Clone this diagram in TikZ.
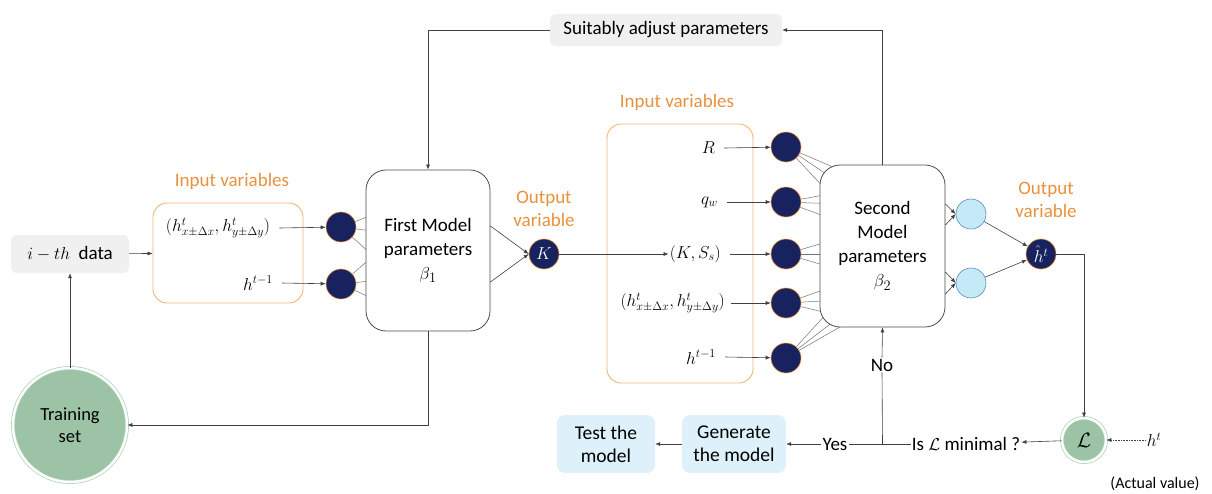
\documentclass[tikz,border=0pt]{standalone}
\usepackage{fontspec}
\setmainfont{Carlito}
\usetikzlibrary{arrows.meta,calc,backgrounds}
\definecolor{navy}{RGB}{24,34,94}
\definecolor{myorange}{RGB}{232,145,60}
\definecolor{boxorange}{RGB}{240,178,120}
\definecolor{grayfill}{RGB}{240,240,240}
\definecolor{paleblue}{RGB}{222,241,250}
\definecolor{lightcirc}{RGB}{198,233,248}
\definecolor{circedge}{RGB}{90,140,185}
\definecolor{sage}{RGB}{157,195,166}
\definecolor{ringgreen}{RGB}{170,210,180}
\begin{document}
\begin{tikzpicture}[x=1pt,y=-1pt,
  txt/.style={font=\fontsize{18}{21}\selectfont, inner sep=1pt},
  otxt/.style={inner sep=1pt, text=myorange, align=center, font=\fontsize{19}{23}\selectfont},
  neuron/.style={circle, fill=navy, draw=myorange, line width=0.6pt, minimum size=30pt, inner sep=0pt, text=white, font=\fontsize{17}{20}\selectfont},
  hidden/.style={circle, fill=lightcirc, draw=circedge, line width=0.6pt, minimum size=30pt, inner sep=0pt},
  modelbox/.style={draw=black!70, rounded corners=20pt, fill=white, line width=0.8pt, align=center, font=\fontsize{19}{24}\selectfont},
  inbox/.style={draw=boxorange, rounded corners=14pt, line width=0.9pt},
  graybox/.style={fill=grayfill, rounded corners=6pt, font=\fontsize{19}{23}\selectfont},
  bluebox/.style={fill=paleblue, rounded corners=8pt, align=center, font=\fontsize{19.5}{23}\selectfont},
  arr/.style={-{Latex[length=5pt,width=4pt]}, line width=0.6pt, draw=black!75},
  fan/.style={draw=black!55, line width=0.5pt},
  greenball/.style={circle, fill=sage, draw=ringgreen, double=white, double distance=2.5pt, line width=0.7pt, inner sep=0pt, align=center, font=\fontsize{18.5}{22}\selectfont}
]
\useasboundingbox (0,0) rectangle (1212,493);

% data source and training set
\node[graybox, minimum width=118pt, minimum height=38pt] (data) at (70,254) {$i-th$\ \ data};
\node[greenball, minimum size=114pt] (train) at (70,425) {Training\\set};

% first input block
\node[inbox, minimum width=150pt, minimum height=100pt] (in1) at (228,253) {};
\node[otxt] (in1lbl) at (232,181) {Input variables};
\node[txt] (x1) at (218,228) {$\big(h^t_{x\pm\Delta x},h^t_{y\pm\Delta y}\big)$};
\node[txt] (p1) at (258,283) {$h^{t-1}$};
\node[neuron] (c1) at (341,227) {};
\node[neuron] (c2) at (341,284) {};

% first model
\node[modelbox, minimum width=124pt, minimum height=161pt] (m1) at (428,250.5) {First Model\\parameters\\$\beta_1$};
\node[neuron] (K) at (544,254) {$K$};
\node[otxt] (outlbl1) at (544,209) {Output\\variable};

% second input block
\node[inbox, minimum width=146pt, minimum height=259pt] (in2) at (680,253.5) {};
\node[otxt] (in2lbl) at (677,102) {Input variables};
\node[txt, anchor=east] (tR) at (716,148) {$R$};
\node[txt, anchor=east] (tq) at (719,202) {$q_w$};
\node[txt, anchor=east] (tK) at (722,254) {$(K,S_s)$};
\node[txt, anchor=east] (th) at (726,303) {$\big(h^t_{x\pm\Delta x},h^t_{y\pm\Delta y}\big)$};
\node[txt, anchor=east] (tp) at (717,357) {$h^{t-1}$};
\node[neuron] (d1) at (786,147) {};
\node[neuron] (d2) at (786,202) {};
\node[neuron] (d3) at (786,254) {};
\node[neuron] (d4) at (786,303) {};
\node[neuron] (d5) at (786,358) {};

% second model
\node[modelbox, minimum width=125pt, minimum height=162pt] (m2) at (882.5,246) {Second\\Model\\parameters\\$\beta_2$};
\node[hidden] (l1) at (971,214) {};
\node[hidden] (l2) at (971,283) {};
\node[neuron] (hh) at (1041,254) {$\hat{h}^t$};
\node[otxt] (outlbl2) at (1046,200) {Output\\variable};

% loss and decision
\node[greenball, minimum size=44pt, font=\fontsize{20}{22}\selectfont] (L) at (1084,440) {$\mathcal{L}$};
\node[txt] (ht) at (1154,440) {$h^t$};
\node[txt, font=\fontsize{16}{18}\selectfont] (act) at (1155,484) {(Actual value)};
\node[txt, font=\fontsize{19}{22}\selectfont] (q) at (966,444) {Is $\mathcal{L}$ minimal ?};
\node[txt, font=\fontsize{19}{22}\selectfont] (yes) at (835,444) {Yes};
\node[txt, font=\fontsize{19}{22}\selectfont] (no) at (882,365) {No};
\node[bluebox, minimum width=104pt, minimum height=58pt] (gen) at (734,444) {Generate\\the model};
\node[bluebox, minimum width=98pt, minimum height=58pt] (test) at (606,444) {Test the\\model};
\node[graybox, minimum width=232pt, minimum height=32pt] (adj) at (666,30) {Suitably adjust parameters};

% fan-in lines hidden behind the model boxes
\begin{pgfonlayer}{background}
  \foreach \yy in {212,232,262} \draw[fan] (c1) -- (380,\yy);
  \foreach \yy in {250,280,302} \draw[fan] (c2) -- (380,\yy);
  \foreach \xx/\yy in {852/175,838/182,828/192} \draw[fan] (d1) -- (\xx,\yy);
  \foreach \yy in {192,204,222} \draw[fan] (d2) -- (840,\yy);
  \foreach \yy in {238,254,270} \draw[fan] (d3) -- (840,\yy);
  \foreach \yy in {284,300,316} \draw[fan] (d4) -- (840,\yy);
  \foreach \xx/\yy in {828/312,838/318,852/320} \draw[fan] (d5) -- (\xx,\yy);
\end{pgfonlayer}

% connectors
\draw[arr] (data) -- (in1);
\draw[arr] (train) -- (data);
\draw[arr] ([xshift=8pt]x1.east) -- (c1);
\draw[arr] ([xshift=8pt]p1.east) -- (c2);
\draw[arr] (m1.east |- 0,226) -- (K.west);
\draw[arr] (m1.east |- 0,282) -- (K.west);
\draw[arr] (K) -- (tK);
\draw[arr] ([xshift=8pt]tR.east) -- (d1);
\draw[arr] ([xshift=8pt]tq.east) -- (d2);
\draw[arr] ([xshift=8pt]tK.east) -- (d3);
\draw[arr] ([xshift=5pt]th.east) -- (d4);
\draw[arr] ([xshift=8pt]tp.east) -- (d5);
\draw[arr] (m2.east |- 0,204) -- (l1.west);
\draw[arr] (m2.east |- 0,225) -- (l1.west);
\draw[arr] (m2.east |- 0,272) -- (l2.west);
\draw[arr] (m2.east |- 0,294) -- (l2.west);
\draw[arr] (l1) -- (hh);
\draw[arr] (l2) -- (hh);
\draw[arr] (hh.east) -| (L.north);
\draw[arr, densely dotted] (ht) -- (L);
\draw[arr] (L) -- (q);
\coordinate (j) at (m2.south |- q.west);
\draw[line width=0.6pt, draw=black!75] (q.west) -- (yes.east);
\draw[line width=0.6pt, draw=black!75] (j) -- (no.south);
\draw[arr] (no.north) -- (m2.south);
\draw[arr] (yes) -- (gen);
\draw[arr] (gen) -- (test);
\draw[arr] (m2.north) |- (adj.east);
\draw[arr] (adj.west) -| (m1.north);
\draw[arr] (m1.south) |- (train.east);
\end{tikzpicture}
\end{document}
